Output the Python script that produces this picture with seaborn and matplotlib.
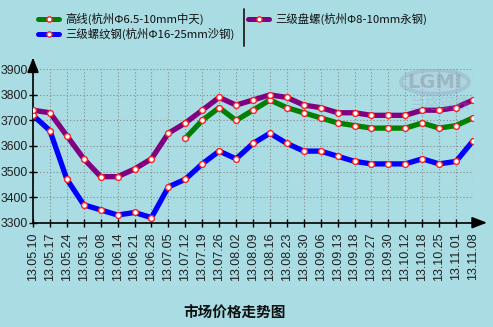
import numpy as np
import pandas as pd
import seaborn as sns
import matplotlib
matplotlib.use("Agg")
import matplotlib.pyplot as plt
from matplotlib.lines import Line2D
from matplotlib.patches import Ellipse

# ---- data -------------------------------------------------------------
dates = ["13.05.10", "13.05.17", "13.05.24", "13.05.31", "13.06.08", "13.06.14",
         "13.06.21", "13.06.28", "13.07.05", "13.07.12", "13.07.19", "13.07.26",
         "13.08.02", "13.08.09", "13.08.16", "13.08.23", "13.08.30", "13.09.06",
         "13.09.13", "13.09.18", "13.09.27", "13.09.30", "13.10.12", "13.10.18",
         "13.10.25", "13.11.01", "13.11.08"]

gaoxian = [None] * 9 + [3630, 3700, 3750, 3700, 3740, 3780, 3750, 3730, 3710,
                        3690, 3680, 3670, 3670, 3670, 3690, 3670, 3680, 3710]
panluo = [3740, 3730, 3640, 3550, 3480, 3480, 3510, 3550, 3650, 3690, 3740, 3790,
          3760, 3780, 3800, 3790, 3760, 3750, 3730, 3730, 3720, 3720, 3720, 3740,
          3740, 3750, 3780]
luowen = [3720, 3660, 3470, 3370, 3350, 3330, 3340, 3320, 3440, 3470, 3530, 3580,
          3550, 3610, 3650, 3610, 3580, 3580, 3560, 3540, 3530, 3530, 3530, 3550,
          3530, 3540, 3620]

series_names = ["高线(杭州Φ6.5-10mm中天)", "三级螺纹钢(杭州Φ16-25mm沙钢)",
                "三级盘螺(杭州Φ8-10mm永钢)"]
series_values = [gaoxian, luowen, panluo]
colors = {series_names[0]: "#008000", series_names[1]: "#0000ff",
          series_names[2]: "#800080"}

y_ticks = [3300, 3400, 3500, 3600, 3700, 3800, 3900]
title = "市场价格走势图"

# ---- style ------------------------------------------------------------
bg = "#a9dce3"
sns.set_theme(style="white")
plt.rcParams["font.family"] = ["Noto Sans CJK SC", "DejaVu Sans"]
plt.rcParams["axes.unicode_minus"] = False

fig = plt.figure(figsize=(4.93, 3.27), dpi=100, facecolor=bg)
W, H = 493, 327
ax = fig.add_axes([33 / W, 1 - 222.7 / H, (473 - 33) / W, (222.7 - 69.3) / H])
ax.set_facecolor(bg)

x_idx = np.arange(len(dates))

# dotted grid
for xi in x_idx:
    ax.axvline(xi, color="#8a8a8a", lw=0.8, ls=(0, (1, 2)), zorder=0)
for yv in y_ticks[1:]:
    ax.axhline(yv, color="#8a8a8a", lw=0.8, ls=(0, (1, 2)), zorder=0)

# watermark
ax.add_patch(Ellipse((435 / W, 1 - 82 / H), 68 / W, 24 / H, transform=fig.transFigure,
                     facecolor="#b9c9dc", edgecolor="#8fa3c0", lw=3, alpha=0.35,
                     zorder=1))
fig.text(435 / W, 1 - 82 / H, "LGMI", ha="center", va="center", fontsize=14,
         fontweight="bold", color="#8a9aa8", alpha=0.5, family="DejaVu Sans")
fig.text(440 / W, 1 - 104 / H, "兰格钢铁", ha="center", va="center", fontsize=11,
         color="#8fa3c0", alpha=0.3)

# lines (blue under, then green, then purple)
order = [1, 0, 2]
for k in order:
    name = series_names[k]
    df = pd.DataFrame({"x": x_idx, "y": series_values[k]}).dropna()
    sns.lineplot(data=df, x="x", y="y", ax=ax, color=colors[name], lw=3.8,
                 marker="o", markersize=4.2, markerfacecolor="white",
                 markeredgecolor="#ff2020", markeredgewidth=1.0,
                 solid_joinstyle="round", solid_capstyle="round",
                 zorder=3 + k, legend=False)

ax.set_xlim(0, len(dates) - 1)
ax.set_ylim(3300, 3900)
ax.set_xlabel("")
ax.set_ylabel("")
ax.set_xticks(x_idx)
ax.set_xticklabels(dates, rotation=90, fontsize=9, family="Liberation Sans",
                   color="#202020")
ax.set_yticks(y_ticks)
ax.set_yticklabels([str(v) for v in y_ticks], fontsize=8.8,
                   family="Liberation Sans", color="#202020")
ax.tick_params(axis="x", direction="inout", length=6, width=1, color="black",
               pad=4, bottom=True)
ax.tick_params(axis="y", direction="inout", length=6, width=1, color="black",
               pad=0.5, left=True)

for s in ["top", "right"]:
    ax.spines[s].set_visible(False)
for s in ["left", "bottom"]:
    ax.spines[s].set_color("black")
    ax.spines[s].set_linewidth(1.2)

# axis arrows
ax.annotate("", xy=(1.038, 0), xytext=(0.99, 0), xycoords="axes fraction",
            arrowprops=dict(arrowstyle="-|>,head_length=0.9,head_width=0.35",
                            color="black", lw=1.2, mutation_scale=10),
            annotation_clip=False)
ax.annotate("", xy=(0, 1.095), xytext=(0, 0.99), xycoords="axes fraction",
            arrowprops=dict(arrowstyle="-|>,head_length=0.9,head_width=0.35",
                            color="black", lw=1.2, mutation_scale=10),
            annotation_clip=False)

# legend
def legend_entry(x0, y, name):
    yf = 1 - y / H
    fig.add_artist(Line2D([x0 / W, (x0 + 21) / W], [yf, yf], color=colors[name],
                          lw=3.6, transform=fig.transFigure))
    fig.add_artist(Line2D([(x0 + 10.5) / W], [yf], marker="o", markersize=3.8,
                          markerfacecolor="white", markeredgecolor="#ff2020",
                          markeredgewidth=1.0, transform=fig.transFigure))
    fig.text((x0 + 27) / W, yf, name, ha="left", va="center", fontsize=8.2,
             color="#101010")

legend_entry(38, 19, series_names[0])
legend_entry(38, 34, series_names[1])
legend_entry(248, 19, series_names[2])
fig.add_artist(Line2D([244 / W, 244 / W], [1 - 9 / H, 1 - 46 / H], color="#202020",
                      lw=1.3, transform=fig.transFigure))

# chart title
fig.text(235 / W, 1 - 313 / H, title, ha="center", va="center", fontsize=10.5,
         fontweight="bold", color="#101010")

fig.savefig("out.png", dpi=100, facecolor=bg)
